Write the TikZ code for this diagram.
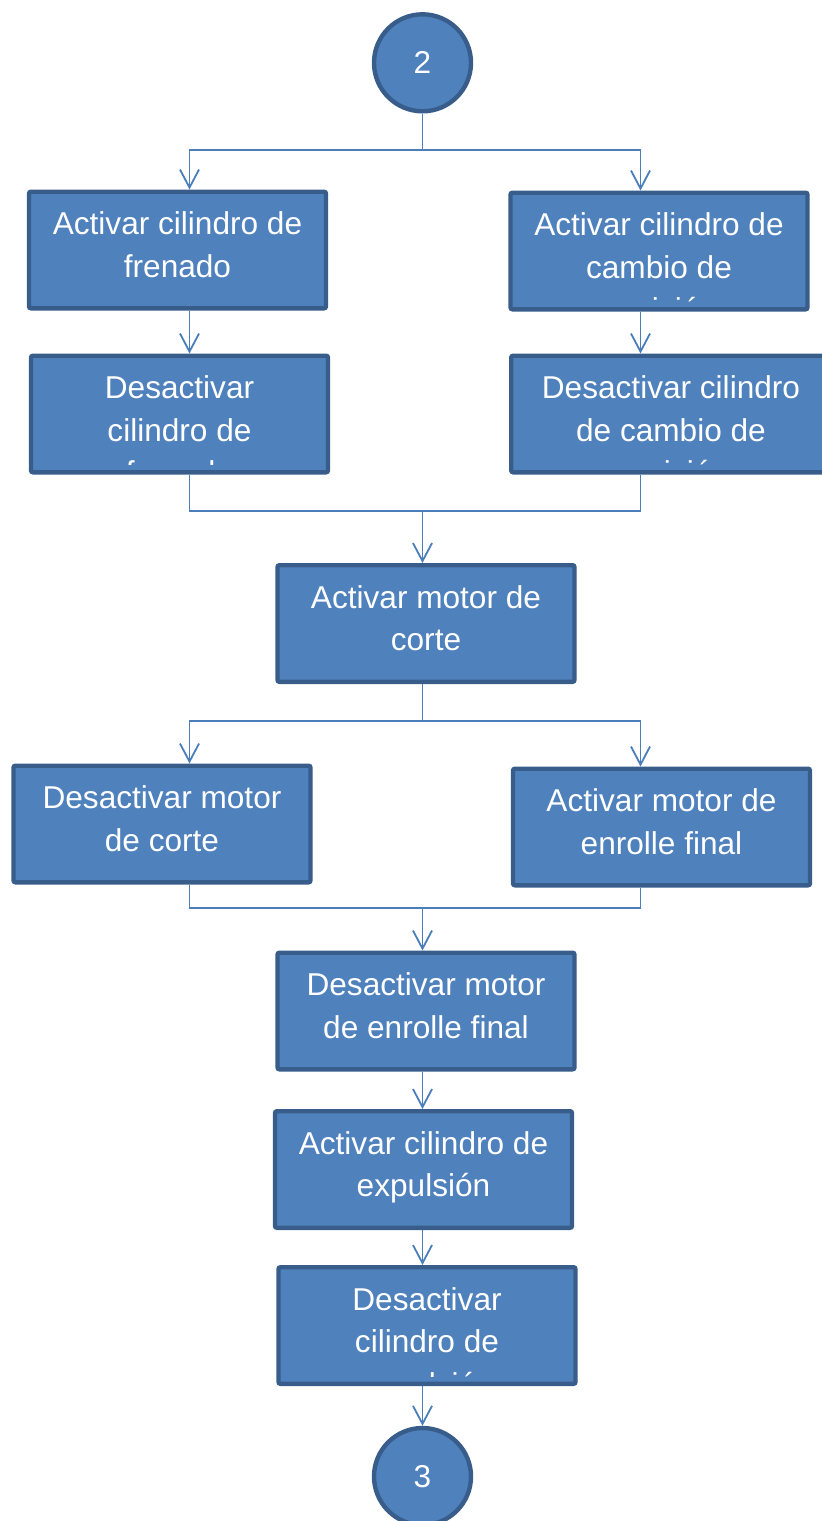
\documentclass[tikz,border=0pt]{standalone}
\usepackage{fontspec}
\setmainfont{Liberation Sans}
\usetikzlibrary{arrows.meta}
\definecolor{boxfill}{HTML}{4F81BD}
\definecolor{boxline}{HTML}{385D8A}
\definecolor{linkcol}{HTML}{4A7EBB}
\tikzset{
  boxtext/.style={anchor=base, text=white, inner sep=0pt,
    font=\fontsize{15.8}{21.3}\selectfont},
  box/.style={draw=boxline, fill=boxfill, line width=2.2pt, rounded corners=1pt,
    minimum width=148.5pt, minimum height=58.3pt, inner sep=0pt,
    path picture={
      \clip ([yshift=3.9pt]path picture bounding box.south west) rectangle (path picture bounding box.north east);
      \node[boxtext] at ([yshift=-21.4pt]path picture bounding box.north)
      {\begin{tabular}[t]{@{}c@{}}#1\end{tabular}};}},
  endpoint/.style={circle, draw=boxline, fill=boxfill, line width=2.2pt,
    minimum size=48.5pt, inner sep=0pt, text=white, font=\fontsize{15.8}{19}\selectfont},
  link/.style={draw=linkcol, line width=0.9pt},
  flow/.style={link, -{Straight Barb[length=9pt,width=9.5pt,line width=0.9pt]}}
}
\begin{document}
\begin{tikzpicture}[x=0.5pt, y=-0.5pt]
\useasboundingbox (0,0) rectangle (822,1521);
% terminals
\node[endpoint] (c2) at (422.5,62.8) {2};
\node[endpoint] (c3) at (422.5,1476.5) {3};
% steps
\node[box={Activar cilindro de\\frenado}] (frenadoOn) at (177.5,250) {};
\node[box={Activar cilindro de\\cambio de\\posición}] (cambioOn) at (659,251) {};
\node[box={Desactivar\\cilindro de\\frenado}] (frenadoOff) at (179.5,414) {};
\node[box={Desactivar cilindro\\de cambio de\\posición}, minimum width=159.8pt] (cambioOff) at (671,414) {};
\node[box={Activar motor de\\corte}] (corteOn) at (426,623.5) {};
\node[box={Desactivar motor\\de corte}] (corteOff) at (162,824) {};
\node[box={Activar motor de\\enrolle final}] (enrolleOn) at (661.5,827) {};
\node[box={Desactivar motor\\de enrolle final}] (enrolleOff) at (426,1011) {};
\node[box={Activar cilindro de\\expulsión}] (expulsionOn) at (423.5,1169.5) {};
\node[box={Desactivar\\cilindro de\\expulsión}] (expulsionOff) at (427,1325.5) {};
% columns and forks
\path (189.5,0) coordinate (colL) (422.5,0) coordinate (colM) (640.5,0) coordinate (colR);
\path (422.5,150) coordinate (forkA) (422.5,511) coordinate (joinA)
  (422.5,721) coordinate (forkB) (422.5,908) coordinate (joinB);
% connectors
\draw[link] (c2) -- (forkA);
\foreach \n/\col in {frenadoOn/colL, cambioOn/colR}
  \draw[flow] (forkA) -| (\col |- \n.north);
\foreach \a/\b/\col in {frenadoOn/frenadoOff/colL, cambioOn/cambioOff/colR,
  enrolleOff/expulsionOn/colM, expulsionOn/expulsionOff/colM}
  \draw[flow] (\col |- \a.south) -- (\col |- \b.north);
\draw[link] (colL |- frenadoOff.south) |- (joinA) -| (colR |- cambioOff.south);
\draw[flow] (joinA) -- (colM |- corteOn.north);
\draw[link] (colM |- corteOn.south) -- (forkB);
\foreach \n/\col in {corteOff/colL, enrolleOn/colR}
  \draw[flow] (forkB) -| (\col |- \n.north);
\draw[link] (colL |- corteOff.south) |- (joinB) -| (colR |- enrolleOn.south);
\draw[flow] (joinB) -- (colM |- enrolleOff.north);
\draw[flow] (colM |- expulsionOff.south) -- (c3);
\end{tikzpicture}
\end{document}
